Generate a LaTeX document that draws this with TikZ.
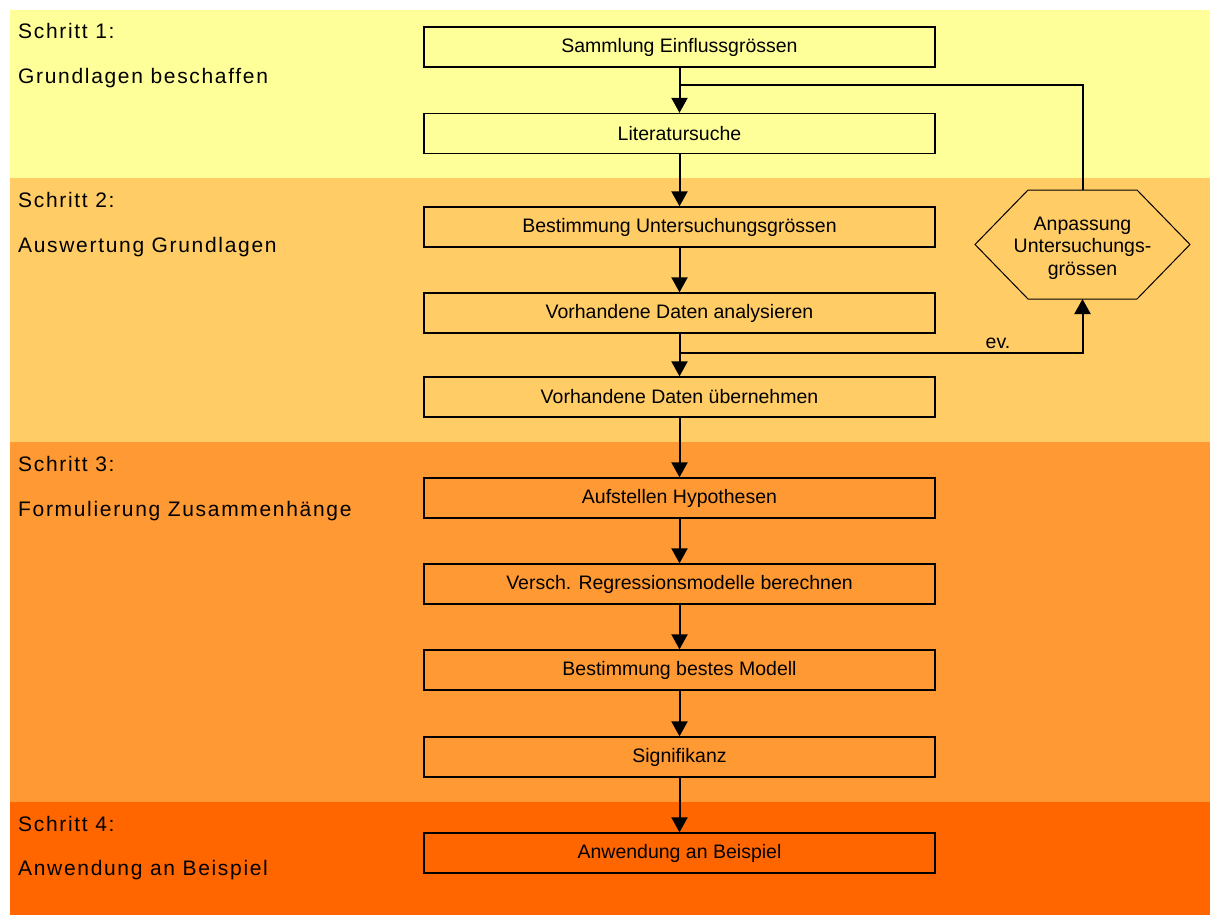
\documentclass[tikz,border=0pt]{standalone}
\usepackage{fontspec}
\setmainfont{Liberation Sans}
\newfontfamily\labfont[LetterSpace=8]{Liberation Sans}
\usetikzlibrary{arrows.meta}
\definecolor{bandA}{HTML}{FFFF99}
\definecolor{bandB}{HTML}{FFCC66}
\definecolor{bandC}{HTML}{FF9933}
\definecolor{bandD}{HTML}{FF6600}
\begin{document}
\begin{tikzpicture}[x=1pt,y=-1pt,
  stepbox/.style={draw=black,line width=1.3pt,minimum width=511pt,minimum height=40pt,inner sep=0pt,font=\fontsize{19.5}{22}\selectfont},
  conn/.style={draw=black,line width=2pt},
  arr/.style={conn,-{Triangle[length=15pt,width=16pt]}},
  lab/.style={anchor=base west,inner sep=0pt,font=\labfont\fontsize{21}{22}\selectfont},
  txt/.style={inner sep=0pt,font=\fontsize{19.5}{22.5}\selectfont}]
\useasboundingbox (0,0) rectangle (1210,915);
% bands
\fill[bandA] (10,10) rectangle (1210,178);
\fill[bandB] (10,178) rectangle (1210,442);
\fill[bandC] (10,442) rectangle (1210,802);
\fill[bandD] (10,802) rectangle (1210,915);
% step labels
\node[lab] (s1a) at (18,39) {Schritt 1:};
\node[lab] (s1b) at (18,84) {Grundlagen beschaffen};
\node[lab] (s2a) at (18,207) {Schritt 2:};
\node[lab] (s2b) at (18,252) {Auswertung Grundlagen};
\node[lab] (s3a) at (18,471) {Schritt 3:};
\node[lab] (s3b) at (18,516) {Formulierung Zusammenhänge};
\node[lab] (s4a) at (18,831) {Schritt 4:};
\node[lab] (s4b) at (18,875) {Anwendung an Beispiel};
% boxes
\node[stepbox] (b1) at (679.5,47) {Sammlung Einflussgrössen};
\node[stepbox] (b2) at (679.5,133.5) {Literatursuche};
\node[stepbox] (b3) at (679.5,227) {Bestimmung Untersuchungsgrössen};
\node[stepbox] (b4) at (679.5,313) {Vorhandene Daten analysieren};
\node[stepbox] (b5) at (679.5,397) {Vorhandene Daten übernehmen};
\node[stepbox] (b6) at (679.5,498) {Aufstellen Hypothesen};
\node[stepbox] (b7) at (679.5,584) {Versch. Regressionsmodelle berechnen};
\node[stepbox] (b8) at (679.5,670) {Bestimmung bestes Modell};
\node[stepbox] (b9) at (679.5,757) {Signifikanz};
\node[stepbox] (b10) at (679.5,853) {Anwendung an Beispiel};
% hexagon
\draw[black,line width=1pt] (975,244.5) -- (1028,190) -- (1137,190) -- (1190,244.5) -- (1137,299) -- (1028,299) -- cycle;
\node[txt,align=center] (hex) at (1082.5,248) {Anpassung\\Untersuchungs-\\grössen};
\coordinate (hextop) at (1082.5,190);
\coordinate (hexbot) at (1082.5,299);
\coordinate (fbjoin) at (679.5,85);
\coordinate (evjoin) at (679.5,353);
% connectors
\draw[arr] (b1) -- (b2);
\draw[arr] (b2) -- (b3);
\draw[arr] (b3) -- (b4);
\draw[arr] (b4) -- (b5);
\draw[arr] (b5) -- (b6);
\draw[arr] (b6) -- (b7);
\draw[arr] (b7) -- (b8);
\draw[arr] (b8) -- (b9);
\draw[arr] (b9) -- (b10);
\draw[conn] (hextop) |- (fbjoin);
\draw[arr] (evjoin) -| (hexbot);
\node[txt,anchor=base] (ev) at (998,348) {ev.};
\end{tikzpicture}
\end{document}
